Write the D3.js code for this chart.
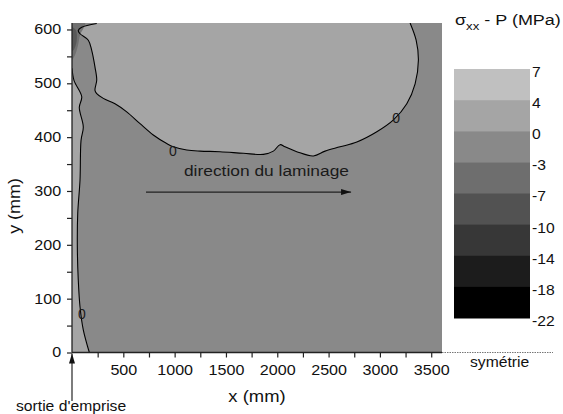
<!DOCTYPE html>
<html><head><meta charset="utf-8">
<script src="https://cdn.jsdelivr.net/npm/d3@7"></script>
<style>
body{margin:0;background:#fff;}
text{font-family:Arial,"Liberation Sans",sans-serif;fill:#111;}
</style></head>
<body><svg id="c" width="563" height="414"></svg>
<script>
// ---- data (mm / MPa) ----
const levels = [7, 4, 0, -3, -7, -10, -14, -18, -22];
const xTicks = [500, 1000, 1500, 2000, 2500, 3000, 3500];
const yTicks = [0, 100, 200, 300, 400, 500, 600];
// zero-level contour, top region (x mm, y mm)
const topContour = [[241,611],[95,604],[61,598],[78,592],[159,580],[192,561],[224,530],[241,506],[224,487],[241,481],[305,472],[419,462],[533,447],[663,425],[792,404],[923,388],[987,382],[1118,376],[1248,374],[1442,373],[1670,370],[1865,368],[1962,374],[2027,386],[2076,382],[2190,373],[2352,365],[2466,374],[2612,382],[2775,391],[2970,410],[3132,432],[3262,462],[3343,499],[3375,543],[3353,580],[3294,612]];
// zero-level contour, left strip
const leftContour = [[0,528],[20,505],[95,475],[71,455],[110,419],[88,394],[78,320],[56,259],[52,196],[61,135],[78,85],[110,42],[169,0]];
// small compressive spot at top-left corner
const spotOuter = [[0,612],[127,612],[78,589],[58,570],[29,552],[0,543]];
const spotInner = [[0,605],[40,598],[45,578],[20,563],[0,560]];
const contourLabels = [[984,375,"0"],[3158,435,"0"],[97,71,"0"]];
const arrowDir = [[721,298],[2719,298]];
const dirLabelX = 1091;

// ---- layout ----
const svg = d3.select("#c");
const x = d3.scaleLinear().domain([0,3605]).range([72,442]);
const y = d3.scaleLinear().domain([0,612]).range([352.5,23]);
const bandColors = ["#c0c0c0","#a5a5a5","#898989","#6e6e6e","#525252","#373737","#1c1c1c","#000000"];
const color = d3.scaleOrdinal().domain(d3.range(levels.length-1)).range(bandColors);

const defs = svg.append("defs");
defs.append("clipPath").attr("id","plot").append("rect")
  .attr("x",x(0)).attr("y",y(612)).attr("width",x(3605)-x(0)).attr("height",y(0)-y(612));
defs.append("marker").attr("id","ah").attr("viewBox","0 0 10 6").attr("refX",10).attr("refY",3)
  .attr("markerWidth",10).attr("markerHeight",6).attr("markerUnits","userSpaceOnUse").attr("orient","auto")
  .append("path").attr("d","M0,0L10,3L0,6Z").attr("fill","#111");

const g = svg.append("g").attr("clip-path","url(#plot)");
g.append("rect").attr("x",x(0)).attr("y",y(612)).attr("width",x(3605)-x(0)).attr("height",y(0)-y(612))
  .attr("fill",color(2));
const line = d3.line().x(d=>x(d[0])).y(d=>y(d[1])).curve(d3.curveCatmullRom.alpha(0.5));
g.append("path").attr("d", line(topContour) + "L" + x(3300) + "," + y(640) + "L" + x(241) + "," + y(640) + "Z").attr("fill",color(1));
g.append("path").attr("d", line(leftContour) + "L" + x(-50) + "," + y(0) + "L" + x(-50) + "," + y(528) + "Z").attr("fill",color(1));
g.append("path").attr("d", line(spotOuter)+"Z").attr("fill",color(3)).attr("opacity",0.9);
g.append("path").attr("d", line(spotInner)+"Z").attr("fill",color(4)).attr("opacity",0.8);
[topContour,leftContour].forEach(c=>g.append("path").attr("d",line(c)).attr("fill","none").attr("stroke","#000").attr("stroke-width",1.1));
g.selectAll("text.cl").data(contourLabels).join("text").attr("class","cl")
  .attr("x",d=>x(d[0])).attr("y",d=>y(d[1])).attr("dy","0.35em").attr("text-anchor","middle")
  .attr("font-size",14).style("fill","#1a1a1a").text(d=>d[2]);

g.append("line").attr("x1",x(arrowDir[0][0])).attr("y1",y(arrowDir[0][1])).attr("x2",x(arrowDir[1][0])).attr("y2",y(arrowDir[1][1]))
  .attr("stroke","#222").attr("stroke-width",1.2).attr("marker-end","url(#ah)");
const tDir = svg.append("text").attr("x",x(dirLabelX)).attr("y",y(arrowDir[0][1])-16)
  .attr("font-size",14).style("fill","#1a1a1a").text("direction du laminage");

// axes
const xa = svg.append("g").attr("transform",`translate(0,${y(0)})`)
  .call(d3.axisBottom(x).tickValues(d3.range(250,3605,250)).tickSize(5).tickFormat(d=>xTicks.includes(d)?d:""));
const ya = svg.append("g").attr("transform",`translate(${x(0)},0)`)
  .call(d3.axisLeft(y).tickValues(d3.range(0,612,50)).tickSize(5).tickFormat(d=>yTicks.includes(d)?d:""));
[xa,ya].forEach(a=>{
  a.select(".domain").attr("stroke","#222").attr("stroke-width",1.3);
  a.selectAll(".tick line").attr("stroke","#222").attr("stroke-width",1.2);
  a.selectAll(".tick text").attr("font-size",14).attr("font-family","Arial,'Liberation Sans',sans-serif").style("fill","#111");
});
xa.select(".domain").attr("d",`M${x(0)},0H${x(3605)}`);
ya.select(".domain").attr("d",`M0,${y(0)}V${y(612)}`);
xa.selectAll(".tick text").attr("dy","1.05em");
ya.selectAll(".tick text").attr("dx","-0.2em");

const tX = svg.append("text").attr("x",(x(0)+x(3605))/2).attr("y",402).attr("text-anchor","middle").attr("font-size",16).text("x (mm)");
const tY = svg.append("text").attr("transform","translate(20,206) rotate(-90)").attr("text-anchor","middle").attr("font-size",16).text("y (mm)");

svg.append("line").attr("x1",x(0)).attr("x2",x(0)).attr("y1",401).attr("y2",y(0)+1).attr("stroke","#111").attr("stroke-width",1.1).attr("marker-end","url(#ah)");
const tS = svg.append("text").attr("x",16).attr("y",411).attr("font-size",14).text("sortie d'emprise");
svg.append("line").attr("x1",x(3605)).attr("x2",553).attr("y1",y(0)).attr("y2",y(0)).attr("stroke","#777").attr("stroke-width",1).attr("stroke-dasharray","1.5,1");
const tSym = svg.append("text").attr("x",470).attr("y",367).attr("font-size",14).text("symétrie");

// legend
const ly = d3.scaleLinear().domain([0,levels.length-1]).range([69,318]);
const leg = svg.append("g");
leg.selectAll("rect").data(d3.range(levels.length-1)).join("rect")
  .attr("x",454).attr("width",76).attr("y",i=>ly(i)).attr("height",i=>ly(i+1)-ly(i)+0.5).attr("fill",i=>color(i));
const legT = leg.selectAll("text").data(levels).join("text").attr("x",532).attr("y",(d,i)=>ly(i)+3).attr("dy","0.35em")
  .attr("font-size",14).text(d=>d);
const t = svg.append("text").attr("font-size",15)
  .attr("transform","translate(455,25) scale(1.2,1)");
t.append("tspan").text("σ");
t.append("tspan").attr("font-size",11).attr("dy",5).text("xx");
t.append("tspan").attr("dy",-5).text(" - P (MPa)");

// horizontal stretch of the reference's lettering
function stretch(sel, k){
  sel.each(function(){ const w=this.getComputedTextLength(); d3.select(this).attr("textLength",w*k).attr("lengthAdjust","spacingAndGlyphs"); });
}
stretch(xa.selectAll(".tick text"),1.15);
stretch(ya.selectAll(".tick text"),1.15);
stretch(legT,1.12);
tDir.attr("textLength",165).attr("lengthAdjust","spacingAndGlyphs");
stretch(tX,1.15);
stretch(tY,1.12);
stretch(tS,1.12);
stretch(tSym,1.12);
</script></body></html>
